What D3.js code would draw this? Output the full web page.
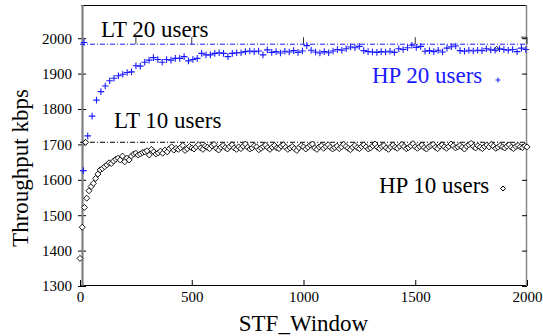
<!DOCTYPE html>
<html><head><meta charset="utf-8">
<script src="https://cdn.jsdelivr.net/npm/d3@7/dist/d3.min.js"></script>
<style>body{margin:0;background:#fff}svg{display:block}
text{font-family:"Liberation Serif","Times New Roman",Times,"DejaVu Serif",serif !important}</style>
</head><body><svg id="c" width="543" height="336"></svg>
<script>
const xTicks = [0, 500, 1000, 1500, 2000];
const yTicks = [1300, 1400, 1500, 1600, 1700, 1800, 1900, 2000];
const topMarks = [250, 500, 1000, 1500, 2000];
const lt20 = 1983;
const lt10 = 1706;
const hp20Start = 15, hp20Step = 19.6;
const hp20 = [1626,1724,1780,1825,1849,1865,1880,1887,1894,1898,1903,1905,1922,1921,1932,1938,1945,1940,1932,1940,1938,1943,1943,1948,1936,1940,1943,1957,1953,1953,1957,1959,1957,1948,1957,1959,1959,1962,1964,1962,1964,1953,1967,
1960,1962,1958,1963,1961,1965,1960,1964,1979,1966,1961,1958,1962,1959,1964,1968,1966,1970,1975,1973,1977,1965,1962,1961,1960,1962,1961,1963,1960,1970,1968,1973,1980,1974,1977,1963,1965,1962,1966,1961,1972,1976,1978,1965,1963,1966,1964,1966,1965,1970,1967,1966,1970,1968,1966,1968,1962,1972,1968];
const hp10Step = 10;
const hp10 = [1378,1466,1522,1548,1569,1581,1590,1604,1616,1628,1632,1637,1642,1648,1646,1653,1658,1661,1656,1667,1651,1661,1656,1667,1673,1675,1670,1673,1677,1679,1682,1670,1686,1679,1673,1676,
1681,1675,1684,1679,1688,1693,1684,1689,1686,1691,1697,1683,1688,1694,1690,
1687,1693,1699,1690,1686,1695,1692,1688,1696,1700,1689,1684,1692,1697,1691,1687,1694,1699,1690,1686,
1693,1688,1695,1701,1692,1687,1690,1696,1693,1685,1689,1694,1698,1691,1686,1692,1697,1690,1688,1695,
1699,1692,1686,1690,1694,1688,1683,1691,1697,1693,1687,1692,1698,1701,1690,1686,1693,1696,1689,1694,
1699,1692,1687,1691,1695,1688,1693,1700,1694,1689,1685,1692,1697,1691,1688,1694,1699,1693,1687,1690,
1696,1701,1692,1688,1694,1697,1690,1686,1693,1698,1692,1689,1695,1700,1694,1688,1691,1696,1702,1693,
1689,1694,1698,1691,1687,1693,1697,1700,1692,1688,1695,1699,1693,1689,1694,1701,1696,1690,1693,1697,
1692,1687,1695,1699,1703,1694,1690,1696,1692,1688,1694,1698,1693,1700,1695,1689,1692,1697,1693,1690,
1695,1699,1692,1688,1694,1697,1693,1691,1695,1693];
const strayX = [1864], strayY = [1970];

const BLUE = "#1a1aff";
const svg = d3.select("#c");
const x = d3.scaleLinear().domain([0, 2000]).range([80, 527]);
const y = d3.scaleLinear().domain([1300, 2000]).range([286, 38.2]);

// frame
svg.append("line").attr("x1",81).attr("x2",527).attr("y1",5.5).attr("y2",5.5).attr("stroke","#000");
svg.append("line").attr("x1",80).attr("x2",527).attr("y1",285.5).attr("y2",285.5).attr("stroke","#000");
svg.append("line").attr("x1",526.5).attr("x2",526.5).attr("y1",5).attr("y2",286).attr("stroke","#888").attr("stroke-width",1.5);

// axes
const gx = svg.append("g").attr("transform","translate(0,286)")
  .call(d3.axisBottom(x).tickValues(xTicks).tickSize(-6).tickPadding(5.5).tickFormat(d3.format("d")));
const gy = svg.append("g").attr("transform","translate(80,0)")
  .call(d3.axisLeft(y).tickValues(yTicks).tickSize(-6).tickPadding(8).tickFormat(d3.format("d")));
const gr = svg.append("g").attr("transform","translate(527,0)")
  .call(d3.axisRight(y).tickValues(yTicks).tickSize(-5).tickFormat(""));
[gx, gy, gr].forEach(g => {
  g.select(".domain").remove();
  g.selectAll("text").attr("font-size", 15).attr("fill","#000");
  g.selectAll("line").attr("stroke","#000");
});
gy.selectAll(".tick").append("line").attr("x1",-2).attr("x2",0).attr("stroke","#000");
gx.selectAll(".tick").append("line").attr("y1",0).attr("y2",-1).attr("stroke","#000");

// left axis gray bar
svg.append("line").attr("x1",82.5).attr("x2",82.5).attr("y1",5).attr("y2",286).attr("stroke","#808080").attr("stroke-width",2.2);

// odd marks at the 2000 level
svg.append("g").selectAll("line").data(topMarks).join("line")
  .attr("x1", d => x(d)).attr("x2", d => x(d))
  .attr("y1", y(2000) - 1).attr("y2", y(2000) + 6)
  .attr("stroke", "#333").attr("stroke-width", 1);
svg.append("line").attr("x1", x(2000) - 6).attr("x2", x(2000)).attr("y1", y(2000)-1).attr("y2", y(2000)-1).attr("stroke","#333");

// LT reference lines
svg.append("line").attr("x1",x(0)).attr("x2",x(2000)).attr("y1",y(lt20)).attr("y2",y(lt20))
  .attr("stroke",BLUE).attr("stroke-width",1).attr("stroke-dasharray","5,2,1,2");
svg.append("line").attr("x1",x(0)).attr("x2",x(2000)).attr("y1",y(lt10)).attr("y2",y(lt10))
  .attr("stroke","#000").attr("stroke-width",1).attr("stroke-dasharray","5,2,1,2");

const plus = (sel, s) => sel.append("path").attr("d", `M${-s},0H${s}M0,${-s}V${s}`).attr("fill","none");
const diamond = (sel, s) => sel.append("path").attr("d", `M0,${-s}L${s},0L0,${s}L${-s},0Z`);

// markers on LT lines
plus(svg.append("g").attr("transform",`translate(${x(18)},${y(1988)})`), 3.3).attr("stroke",BLUE).attr("stroke-width",1.1);
diamond(svg.append("g").attr("transform",`translate(${x(25)},${y(lt10)})`), 3).attr("fill","#fff").attr("stroke","#000").attr("stroke-width",1);

// HP 10 diamonds
const g10 = svg.append("g");
g10.selectAll("g").data(hp10).join("g")
  .attr("transform", (d,i) => `translate(${x(i*hp10Step)},${y(d)})`)
  .each(function(){ diamond(d3.select(this), 3).attr("fill","#fff").attr("stroke","#000").attr("stroke-width",0.9); });
svg.append("g").selectAll("g").data(strayY).join("g")
  .attr("transform", (d,i) => `translate(${x(strayX[i])},${y(d)})`)
  .each(function(){ diamond(d3.select(this), 2.5).attr("fill","#fff").attr("stroke","#000").attr("stroke-width",1); });

// HP 20 plus
const g20 = svg.append("g");
g20.selectAll("g").data(hp20).join("g")
  .attr("transform", (d,i) => `translate(${x(hp20Start + i*hp20Step)},${y(d)})`)
  .each(function(){ plus(d3.select(this), 3.3).attr("stroke",BLUE).attr("stroke-width",1.1); });

// labels
const txt = (t, xx, yy, col, anchor) => svg.append("text").text(t).attr("x",xx).attr("y",yy)
  .attr("font-size",23).attr("fill",col).attr("text-anchor",anchor||"start");
txt("LT 20 users", 101, 37, "#000");
txt("LT 10 users", 114, 128, "#000");
txt("HP 20 users", 372, 83, BLUE);
txt("HP 10 users", 379, 193, "#000");
plus(svg.append("g").attr("transform","translate(498,80)"), 2.5).attr("stroke",BLUE).attr("stroke-width",1);
diamond(svg.append("g").attr("transform","translate(503,188.5)"), 2.5).attr("fill","#fff").attr("stroke","#000").attr("stroke-width",1);

txt("STF_Window", 303.5, 331, "#000", "middle");
svg.append("text").text("Throughput kbps").attr("transform","translate(28,168) rotate(-90)")
  .attr("font-size",23).attr("text-anchor","middle").attr("fill","#000");
</script></body></html>
